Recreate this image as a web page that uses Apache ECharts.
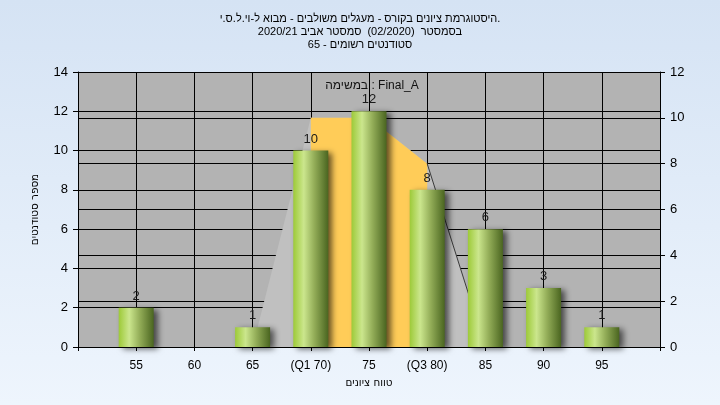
<!DOCTYPE html>
<html>
<head>
<meta charset="utf-8">
<script src="https://cdn.jsdelivr.net/npm/echarts/dist/echarts.min.js"></script>
<style>
  html, body { margin: 0; padding: 0; }
  #chart { width: 720px; height: 405px; direction: rtl; }
</style>
</head>
<body>
<div id="chart"></div>
<script>
// ---- data ----
const titleLines = [
  '.היסטוגרמת ציונים בקורס - מעגלים משולבים - מבוא ל-וי.ל.ס.י',
  'בסמסטר  (02/2020)  סמסטר אביב 2020/21',
  'סטודנטים רשומים - 65'
];
const seriesCaption = 'Final_A : במשימה';
const grades = [55, 60, 65, 70, 75, 80, 85, 90, 95];
const counts = [2, 0, 1, 10, 12, 8, 6, 3, 1];
const gradeTickLabels = ['55', '60', '65', '(Q1 70)', '75', '(Q3 80)', '85', '90', '95'];
const xRange = [50, 100, 5];
const leftYRange = [0, 14, 2];
const rightYRange = [0, 12, 2];
// spread polygon (right axis)
const polyX = [65, 70, 75, 80, 85];
const polyY = [0, 10, 10, 8, 0];
// interquartile region (right axis)
const iqrX = [70, 75, 80];
const iqrY = [10, 10, 8];
// outline segment on the right side of the polygon
const edgeX = [80, 85];
const edgeY = [8, 0];
const xAxisName = 'טווח ציונים';
const yAxisName = 'מספר סטודנטים';

const FONT = 'Liberation Sans, Arial, sans-serif';
const CFONT = '"DejaVu Sans Condensed", "Liberation Sans", sans-serif';
const chart = echarts.init(document.getElementById('chart'), null, { renderer: 'canvas' });

const pairs = (xs, ys) => xs.map((x, i) => [x, ys[i]]);

chart.setOption({
  animation: false,
  backgroundColor: {
    type: 'linear', x: 0, y: 0, x2: 0, y2: 1,
    colorStops: [{ offset: 0, color: '#d5e3f4' }, { offset: 1, color: '#eef5fd' }]
  },
  title: {
    text: titleLines.join('\n'),
    left: 'center',
    top: 7,
    textStyle: { fontFamily: FONT, fontSize: 11, fontWeight: 'normal', color: '#000', lineHeight: 13.3 }
  },
  graphic: [{
    type: 'text',
    x: 372, y: 86,
    style: { text: seriesCaption, font: '12px ' + FONT, fill: '#111', textAlign: 'center', textVerticalAlign: 'middle' },
    z: 100
  }],
  grid: {
    left: 78, right: 60, top: 72, bottom: 58,
    show: true, backgroundColor: '#b3b3b3', borderWidth: 0
  },
  xAxis: {
    type: 'value', min: xRange[0], max: xRange[1], interval: xRange[2],
    name: xAxisName, nameLocation: 'middle', nameGap: 30,
    nameTextStyle: { fontFamily: CFONT, fontSize: 11.5, color: '#000' },
    axisLine: { show: true, lineStyle: { color: '#000', width: 1 } },
    axisTick: { show: true, length: 4, lineStyle: { color: '#000' } },
    axisLabel: {
      margin: 13, fontFamily: FONT, fontSize: 12, color: '#000',
      showMinLabel: true, showMaxLabel: true,
      formatter: v => { const i = grades.indexOf(v); return i >= 0 ? gradeTickLabels[i] : ''; }
    },
    splitLine: { show: true, lineStyle: { color: '#000', width: 1 } }
  },
  yAxis: [{
    type: 'value', position: 'left', min: leftYRange[0], max: leftYRange[1], interval: leftYRange[2],
    name: yAxisName, nameLocation: 'middle', nameGap: 37, nameRotate: 90,
    nameTextStyle: { fontFamily: CFONT, fontSize: 11.5, color: '#000' },
    axisLine: { show: true, lineStyle: { color: '#000', width: 1 } },
    axisTick: { show: true, length: 5, lineStyle: { color: '#000' } },
    axisLabel: { margin: 10, fontFamily: FONT, fontSize: 13, color: '#000' },
    splitLine: { show: true, lineStyle: { color: '#000', width: 1 } }
  }, {
    type: 'value', position: 'right', min: rightYRange[0], max: rightYRange[1], interval: rightYRange[2],
    axisLine: { show: true, lineStyle: { color: '#000', width: 1 } },
    axisTick: { show: true, length: 5, lineStyle: { color: '#000' } },
    axisLabel: { margin: 10, fontFamily: FONT, fontSize: 13, color: '#000' },
    splitLine: { show: true, lineStyle: { color: '#000', width: 1 } }
  }],
  series: [{
    type: 'line', yAxisIndex: 1, data: pairs(polyX, polyY),
    symbol: 'none', lineStyle: { width: 0 },
    areaStyle: { color: '#c0c0c0', opacity: 1 }, z: 1, silent: true
  }, {
    type: 'line', yAxisIndex: 1, data: pairs(iqrX, iqrY),
    symbol: 'none', lineStyle: { width: 0 },
    areaStyle: { color: '#ffcc58', opacity: 1 }, z: 2, silent: true
  }, {
    type: 'line', yAxisIndex: 1, data: pairs(edgeX, edgeY),
    symbol: 'none', lineStyle: { width: 1, color: '#3a3a3a' }, z: 3, silent: true
  }, {
    type: 'bar', yAxisIndex: 0, data: pairs(grades, counts),
    barWidth: 35, z: 4,
    itemStyle: {
      color: {
        type: 'linear', x: 0, y: 0, x2: 1, y2: 0,
        colorStops: [
          { offset: 0, color: '#9dca38' },
          { offset: 0.3, color: '#cbe68d' },
          { offset: 0.6, color: '#93ad58' },
          { offset: 1, color: '#4a6520' }
        ]
      },
      shadowColor: 'rgba(0,0,0,0.6)', shadowBlur: 6, shadowOffsetX: 4, shadowOffsetY: 2
    },
    label: {
      show: true, position: 'top', distance: 5,
      fontFamily: FONT, fontSize: 13, color: '#1a1a1a',
      formatter: p => (p.value[1] ? String(p.value[1]) : '')
    }
  }]
});
</script>
</body>
</html>
